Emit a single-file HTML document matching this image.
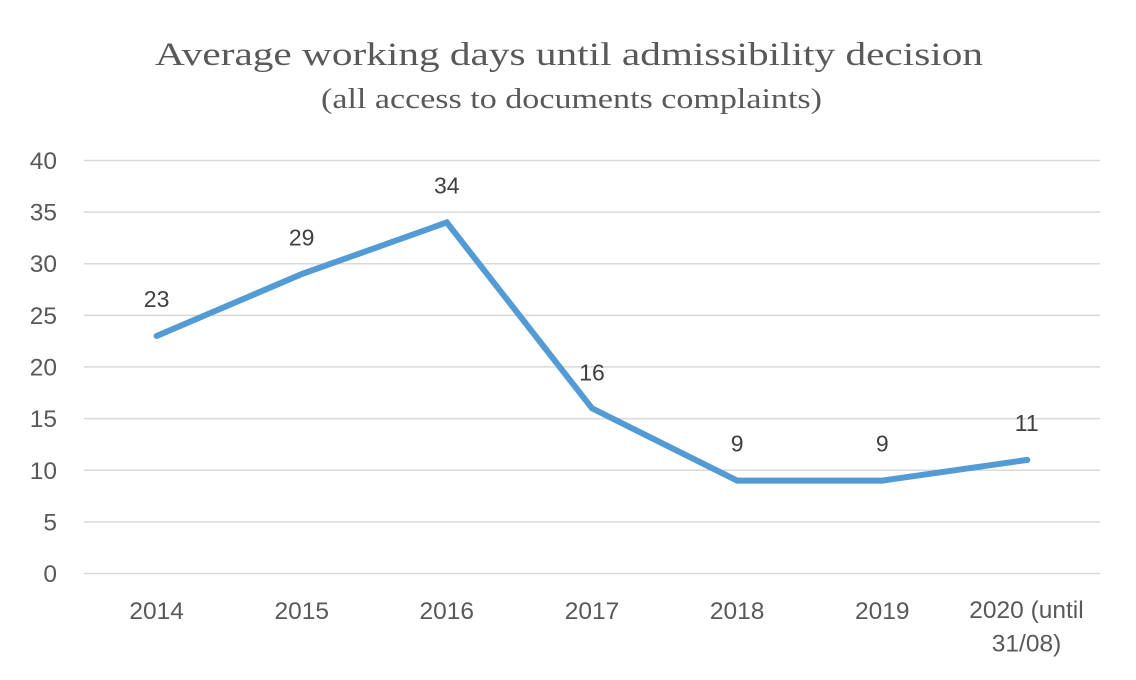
<!DOCTYPE html>
<html>
<head>
<meta charset="utf-8">
<style>
html,body{margin:0;padding:0;background:#fff;}
svg{display:block;}
</style>
</head>
<body>
<svg width="1136" height="680" viewBox="0 0 1136 680" xmlns="http://www.w3.org/2000/svg">
<rect width="1136" height="680" fill="#fff"/>
<text x="155" y="65" font-family="Liberation Serif, serif" font-size="33" fill="#595959" textLength="828" lengthAdjust="spacingAndGlyphs">Average working days until admissibility decision</text>
<text x="321" y="108" font-family="Liberation Serif, serif" font-size="29" fill="#595959" textLength="501" lengthAdjust="spacingAndGlyphs">(all access to documents complaints)</text>
<g stroke="#d9d9d9" stroke-width="1.5">
<line x1="84" x2="1100" y1="573.5" y2="573.5"/>
<line x1="84" x2="1100" y1="521.9" y2="521.9"/>
<line x1="84" x2="1100" y1="470.25" y2="470.25"/>
<line x1="84" x2="1100" y1="418.6" y2="418.6"/>
<line x1="84" x2="1100" y1="366.9" y2="366.9"/>
<line x1="84" x2="1100" y1="315.4" y2="315.4"/>
<line x1="84" x2="1100" y1="263.7" y2="263.7"/>
<line x1="84" x2="1100" y1="212.1" y2="212.1"/>
<line x1="84" x2="1100" y1="160.5" y2="160.5"/>
</g>
<g font-family="Liberation Sans, sans-serif" font-size="24.5" fill="#595959" text-anchor="end">
<text x="57" y="582">0</text>
<text x="57" y="530.4">5</text>
<text x="57" y="478.8">10</text>
<text x="57" y="427.1">15</text>
<text x="57" y="375.4">20</text>
<text x="57" y="323.9">25</text>
<text x="57" y="272.2">30</text>
<text x="57" y="220.6">35</text>
<text x="57" y="169">40</text>
</g>
<g font-family="Liberation Sans, sans-serif" font-size="24.5" fill="#595959" text-anchor="middle">
<text x="156.6" y="619">2014</text>
<text x="301.7" y="619">2015</text>
<text x="446.8" y="619">2016</text>
<text x="592" y="619">2017</text>
<text x="737.1" y="619">2018</text>
<text x="882.3" y="619">2019</text>
<text x="1026.5" y="618">2020 (until</text>
<text x="1026.5" y="651.5">31/08)</text>
</g>
<polyline points="156.6,336 301.7,274.1 446.8,222.45 592,408.3 737.1,480.6 882.3,480.6 1027.4,459.9" fill="none" stroke="#529bd4" stroke-width="6" stroke-linecap="round" stroke-linejoin="miter"/>
<g font-family="Liberation Sans, sans-serif" font-size="23" fill="#404040" text-anchor="middle">
<text x="156.6" y="307">23</text>
<text x="301.7" y="245.5">29</text>
<text x="446.8" y="193.5">34</text>
<text x="592" y="380.5">16</text>
<text x="737.1" y="451.7">9</text>
<text x="882.3" y="451.7">9</text>
<text x="1026.7" y="431">11</text>
</g>
</svg>
</body>
</html>
